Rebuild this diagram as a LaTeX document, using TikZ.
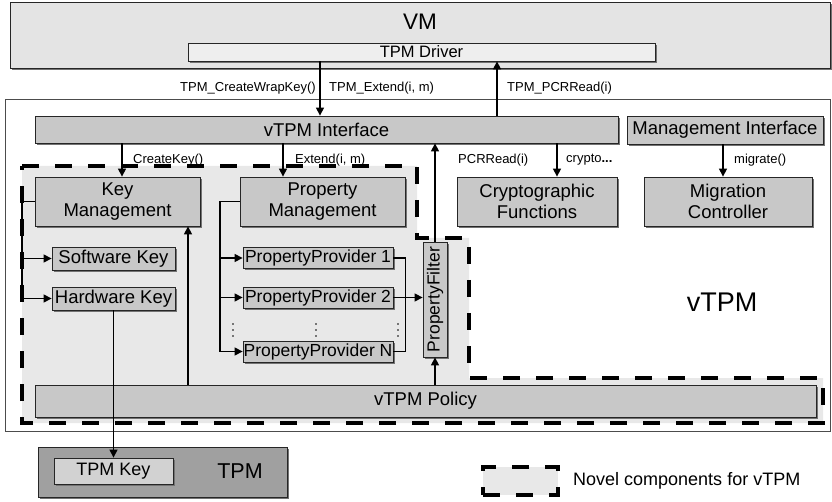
\documentclass[tikz,border=0pt]{standalone}
\usepackage{fontspec}
\setmainfont{Liberation Sans}
\usetikzlibrary{shadows,arrows.meta,calc}
\definecolor{vmfill}{HTML}{E4E4E4}
\definecolor{midfill}{HTML}{C8C8C8}
\definecolor{novfill}{HTML}{E8E8E8}
\definecolor{drvfill}{HTML}{EEEEEE}
\definecolor{tpmfill}{HTML}{A0A0A0}
\definecolor{keyfill}{HTML}{D2D2D2}
\begin{document}
\begin{tikzpicture}[x=1pt,y=-1pt,
  box/.style={draw=black!85, line width=0.8pt, fill=midfill, inner sep=0pt, align=center,
    font=\fontsize{18.5}{21}\selectfont,
    drop shadow={shadow xshift=2pt,shadow yshift=-2pt,fill=black!55,opacity=1}},
  ppbox/.style={box, font=\fontsize{17.5}{20}\selectfont},
  lbl/.style={font=\fontsize{13}{15}\selectfont, inner sep=0pt},
  arr/.style={line width=1.3pt, -{Triangle[length=8pt,width=8pt]}},
  conn/.style={line width=1.3pt},
  novel/.style={draw, dash pattern=on 17pt off 16pt, line width=4pt, fill=novfill},
]
\useasboundingbox[fill=white] (0,0) rectangle (832,502);

% VM
\node[box, fill=vmfill, minimum width=820, minimum height=66] (vm) at (420,35) {};
\node[font=\fontsize{22.5}{24}\selectfont, inner sep=0pt] (vmlbl) at (420,22) {VM};
\node[box, fill=drvfill, minimum width=467, minimum height=18, font=\fontsize{16.5}{18}\selectfont] (drv) at (421.5,52) {TPM Driver};

% vTPM outer
\node[draw=black!70, line width=0.8pt, fill=white, minimum width=825, minimum height=332, inner sep=0pt] (vtpm) at (417.5,265) {};
\node[font=\fontsize{27}{30}\selectfont, inner sep=0pt] (vtpmlbl) at (722,302) {vTPM};

% novel region
\draw[novel] (22,166) -- (417,166) -- (417,238) -- (469,238) -- (469,378) -- (823,378) -- (823,423) -- (22,423) -- cycle;

% boxes
\node[box, minimum width=583, minimum height=27] (iface) at (326.5,129.5) {vTPM Interface};
\node[box, minimum width=196, minimum height=28] (mif) at (725,130) {Management Interface};
\node[box, minimum width=165, minimum height=49] (km) at (117.5,201.5) {Key\\Management};
\node[box, minimum width=165, minimum height=49] (pm) at (322.5,201.5) {Property\\Management};
\node[box, minimum width=160, minimum height=49] (cf) at (537,201.5) {Cryptographic\\Functions};
\node[box, minimum width=168, minimum height=49] (mc) at (728,201.5) {Migration\\Controller};
\node[box, minimum width=123, minimum height=23] (swk) at (113.5,258.5) {Software Key};
\node[box, minimum width=123, minimum height=23] (hwk) at (113.5,298.5) {Hardware Key};
\node[ppbox, minimum width=150, minimum height=21] (pp1) at (318,258) {PropertyProvider 1};
\node[ppbox, minimum width=150, minimum height=21] (pp2) at (318,297.5) {PropertyProvider 2};
\node[ppbox, minimum width=150, minimum height=21] (ppn) at (318,351.5) {PropertyProvider N};
\node[box, rotate=90, minimum width=115, minimum height=24, font=\fontsize{17.5}{20}\selectfont] (pf) at (435,299.5) {PropertyFilter};
\node[box, minimum width=781, minimum height=32] (policy) at (425.5,401) {vTPM Policy};

% dots
\foreach \x in {233,316,398}{
  \foreach \y in {324,330,336}{ \fill (\x,\y) circle (0.9); }
}

% TPM
\node[box, fill=tpmfill, minimum width=249, minimum height=50] (tpm) at (162.5,472) {};
\node[font=\fontsize{21.5}{24}\selectfont, inner sep=0pt] (tpmlbl) at (240,471) {TPM};
\node[box, fill=keyfill, minimum width=119, minimum height=26, font=\fontsize{18}{20}\selectfont] (tpmkey) at (113.5,471) {TPM Key};

% legend
\node[novel, minimum width=75, minimum height=28, inner sep=0pt] (leg) at (520.5,481) {};
\node[anchor=west, font=\fontsize{18}{20}\selectfont, inner sep=0pt] (legtxt) at (573,481) {Novel components for vTPM};

% arrows VM <-> vTPM
\draw[arr] (320,0 |- drv.south) -- (320,0 |- iface.north);
\draw[arr] (497,0 |- iface.north) -- (497,0 |- drv.south);
\node[lbl, anchor=east] (l1) at (316,88) {TPM\_CreateWrapKey()};
\node[lbl, anchor=west] (l2) at (329,88) {TPM\_Extend(i, m)};
\node[lbl, anchor=west] (l3) at (507,88) {TPM\_PCRRead(i)};

% interface arrows
\draw[arr] (122,0 |- iface.south) -- (122,0 |- km.north);
\node[lbl, anchor=west] (l4) at (133,160) {CreateKey()};
\draw[arr] (283,0 |- iface.south) -- (283,0 |- pm.north);
\node[lbl, anchor=west] (l5) at (295,160) {Extend(i, m)};
\draw[arr] (pf.east) -- (pf.east |- iface.south);
\node[lbl, anchor=west] (l6) at (458,160) {PCRRead(i)};
\draw[arr] (557,0 |- iface.south) -- (557,0 |- cf.north);
\node[lbl, anchor=west] (l7) at (566,160) {crypto\textbf{...}};
\draw[arr] (723,0 |- mif.south) -- (723,0 |- mc.north);
\node[lbl, anchor=west] (l8) at (734,160) {migrate()};

% key management bus
\coordinate (kbus) at (22,201.5);
\draw[conn] (km.west) -- (kbus);
\draw[arr] (kbus) |- (swk.west);
\draw[arr] (kbus) |- (hwk.west);

% property management bus
\coordinate (pbus) at (220,201.5);
\draw[conn] (pm.west) -- (pbus);
\draw[arr] (pbus) |- (pp1.west);
\draw[arr] (pbus) |- (pp2.west);
\draw[arr] (pbus) |- (ppn.west);
\draw[conn] (pp1.east) -- ++(12,0) |- (ppn.east);
\draw[arr] (pp2.east) -- (pp2.east -| pf.north);

% policy arrows
\draw[arr] (188,0 |- policy.north) -- (188,0 |- km.south);
\draw[arr] (pf.west |- policy.north) -- (pf.west);

% hardware key to TPM key
\draw[arr] (hwk.south) -- (tpmkey.north);
\end{tikzpicture}
\end{document}
